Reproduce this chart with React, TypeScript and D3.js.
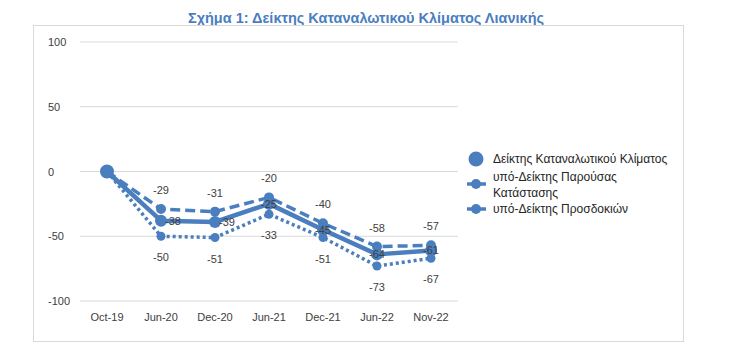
import React from 'react';
import * as d3 from 'd3';

const categories = ['Oct-19', 'Jun-20', 'Dec-20', 'Jun-21', 'Dec-21', 'Jun-22', 'Nov-22'];
const climateIndex = [0, -38, -39, -25, -45, -64, -61];
const presentIndex = [0, -29, -31, -20, -40, -58, -57];
const expectIndex = [0, -50, -51, -33, -51, -73, -67];
const yTicks = [100, 50, 0, -50, -100];

const seriesNames = [
  ['Δείκτης Καταναλωτικού Κλίματος'],
  ['υπό-Δείκτης Παρούσας', 'Κατάστασης'],
  ['υπό-Δείκτης Προσδοκιών'],
];

const BLUE = '#4a7ebf';
const FONT = '"Liberation Sans", Arial, sans-serif';

export default function App() {
  const width = 735;
  const height = 352;

  const x = d3.scaleBand().domain(categories).range([80, 458]);
  const y = d3.scaleLinear().domain([-100, 100]).range([301, 42]);
  const cx = (c: string) => x(c)! + x.bandwidth() / 2;

  const line = d3.line<number>()
    .x((_, i) => cx(categories[i]))
    .y(d => y(d));

  const series = [
    { values: climateIndex, width: 4.5, dash: undefined as string | undefined, r: 6, labelDy: 4 },
    { values: presentIndex, width: 3.5, dash: '10,5', r: 5, labelDy: -15 },
    { values: expectIndex, width: 3.5, dash: '3,3', r: 4.5, labelDy: 25 },
  ];

  return (
    <svg width={width} height={height} style={{ position: 'fixed', left: 0, top: 0, background: '#fff' }}
      fontFamily={FONT}>
      <rect x={0} y={0} width={width} height={height} fill="#fff" />
      <text x={366} y={23} textAnchor="middle" fontSize={14.5} fontWeight="bold" fill={BLUE}>
        Σχήμα 1: Δείκτης Καταναλωτικού Κλίματος Λιανικής
      </text>
      <rect x={33.5} y={25.5} width={650} height={316} fill="none" stroke="#d9d9d9" />

      {yTicks.map(t => (
        <g key={t}>
          <line x1={80} x2={458} y1={y(t)} y2={y(t)} stroke="#d9d9d9" strokeWidth={1} />
          <text x={48} y={y(t) + 4} fontSize={11} fill="#404040">{t}</text>
        </g>
      ))}

      {categories.map(c => (
        <text key={c} x={cx(c)} y={321} textAnchor="middle" fontSize={11} fill="#404040">{c}</text>
      ))}

      {series.map((s, si) => (
        <g key={si}>
          <path d={line(s.values)!} fill="none" stroke={BLUE} strokeWidth={s.width}
            strokeDasharray={s.dash} strokeLinejoin="round" />
          {s.values.map((v, i) => (
            <circle key={i} cx={cx(categories[i])} cy={y(v)} r={i === 0 && si === 0 ? 7 : s.r} fill={BLUE} />
          ))}
        </g>
      ))}

      {series.map((s, si) => s.values.map((v, i) => i === 0 ? null : (
        <text key={`${si}-${i}`} x={cx(categories[i]) + (si === 0 && i < 3 ? 12 : 0)} y={y(v) + s.labelDy}
          textAnchor="middle" fontSize={11} fill="#404040">{v}</text>
      )))}

      {/* legend */}
      <g>
        <circle cx={476} cy={159} r={7.5} fill={BLUE} />
        <line x1={467} x2={486} y1={184} y2={184} stroke={BLUE} strokeWidth={3.5} />
        <circle cx={476} cy={184} r={5} fill={BLUE} />
        <line x1={467} x2={486} y1={209} y2={209} stroke={BLUE} strokeWidth={3.5} />
        <circle cx={476} cy={209} r={5} fill={BLUE} />
        {seriesNames.map((lines, si) => lines.map((t, li) => {
          const rowY = [163, 181, 213][si] + li * 16;
          return (
            <text key={`${si}-${li}`} x={493} y={rowY} fontSize={12} fill="#262626">{t}</text>
          );
        }))}
      </g>
    </svg>
  );
}
